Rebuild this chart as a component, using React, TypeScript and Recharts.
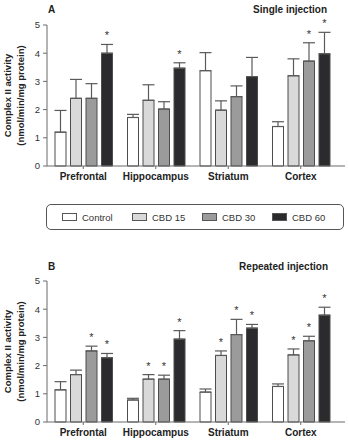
import { Bar, BarChart, ErrorBar, LabelList, XAxis, YAxis, Label } from "recharts";

const regions = ["Prefrontal", "Hippocampus", "Striatum", "Cortex"];
const groups = ["Control", "CBD 15", "CBD 30", "CBD 60"];
const groupFills = ["#ffffff", "#d9d9d9", "#9b9b9b", "#2b2b2d"];
const yTicks = [0, 1, 2, 3, 4, 5];

// single injection: means and upper SEM per group, one value per region
const singleMeans = [
  [1.2, 1.72, 3.38, 1.4],
  [2.4, 2.33, 1.98, 3.2],
  [2.4, 2.02, 2.46, 3.72],
  [4.0, 3.47, 3.17, 3.98],
];
const singleErrs = [
  [0.77, 0.11, 0.64, 0.17],
  [0.67, 0.55, 0.33, 0.6],
  [0.52, 0.26, 0.38, 0.65],
  [0.31, 0.19, 0.68, 0.76],
];
const singleStars = [
  [false, false, false, false],
  [false, false, false, false],
  [false, false, false, true],
  [true, true, false, true],
];

// repeated injection
const repeatedMeans = [
  [1.14, 0.78, 1.06, 1.26],
  [1.68, 1.52, 2.36, 2.38],
  [2.52, 1.52, 3.1, 2.88],
  [2.28, 2.94, 3.33, 3.79],
];
const repeatedErrs = [
  [0.29, 0.06, 0.11, 0.09],
  [0.16, 0.16, 0.16, 0.21],
  [0.17, 0.14, 0.54, 0.16],
  [0.15, 0.3, 0.13, 0.28],
];
const repeatedStars = [
  [false, false, false, false],
  [false, true, true, true],
  [true, true, true, true],
  [true, true, true, true],
];

const font = "'Liberation Sans', Arial, Helvetica, sans-serif";
const axisColor = "#6b6b6b";

function buildRows(means: number[][], errs: number[][]) {
  return regions.map((region, i) => {
    const row: Record<string, any> = { region };
    groups.forEach((_, g) => {
      row[`v${g}`] = means[g][i];
      row[`e${g}`] = [0, errs[g][i]];
    });
    return row;
  });
}

const yLabel = (props: any) => {
  const vb = props.viewBox ?? props;
  const cy = vb.y + vb.height / 2;
  return (
    <g fontFamily={font} fontSize={9.5} fontWeight={700} fill="#222">
      <text x={11} y={cy} transform={`rotate(-90, 11, ${cy})`} textAnchor="middle">
        Complex II activity
      </text>
      <text x={24} y={cy} transform={`rotate(-90, 24, ${cy})`} textAnchor="middle">
        (nmol/min/mg protein)
      </text>
    </g>
  );
};

function Panel({
  means,
  errs,
  stars,
  height,
  top,
}: {
  means: number[][];
  errs: number[][];
  stars: boolean[][];
  height: number;
  top: number;
}) {
  const rows = buildRows(means, errs);
  return (
    <BarChart
      width={349}
      height={height}
      data={rows}
      margin={{ top, right: 4, bottom: 0, left: 0 }}
      barSize={11}
      barGap={4.5}
    >
      <XAxis
        dataKey="region"
        height={height - top - 141 - 0}
        padding={{ left: 0, right: 8 }}
        stroke={axisColor}
        tickSize={3}
        tickMargin={4}
        tick={{ fontSize: 10, fontWeight: 700, fill: "#222", fontFamily: font }}
      />
      <YAxis
        width={47}
        domain={[0, 5]}
        ticks={yTicks}
        interval={0}
        stroke={axisColor}
        tickSize={4}
        tickMargin={3}
        tick={{ fontSize: 9.5, fill: "#333", fontFamily: font }}
      >
        <Label content={yLabel} />
      </YAxis>
      {groups.map((name, g) => (
        <Bar
          key={name}
          dataKey={`v${g}`}
          name={name}
          fill={groupFills[g]}
          stroke="#4d4d4d"
          strokeWidth={1}
          isAnimationActive={false}
        >
          <ErrorBar dataKey={`e${g}`} direction="y" width={6} stroke="#5a5a5a" strokeWidth={1.2} />
          <LabelList
            dataKey={`v${g}`}
            content={(p: any) => {
              const i = p.index;
              if (i == null || !stars[g][i]) return null;
              const vb = p.viewBox ?? p;
              const perUnit = vb.height / means[g][i];
              const errTop = vb.y - errs[g][i] * perUnit;
              return (
                <text
                  x={vb.x + vb.width / 2}
                  y={errTop - 5}
                  textAnchor="middle"
                  fontSize={11}
                  fontFamily={font}
                  fill="#333"
                >
                  *
                </text>
              );
            }}
          />
        </Bar>
      ))}
    </BarChart>
  );
}

const titleStyle = {
  position: "absolute" as const,
  fontFamily: font,
  fontSize: 10,
  fontWeight: 700,
  color: "#222",
  lineHeight: "12px",
};

export default function App() {
  return (
    <div
      style={{
        position: "absolute",
        left: 0,
        top: 0,
        width: 349,
        height: 443,
        background: "#fff",
        overflow: "hidden",
        fontFamily: font,
      }}
    >
      <div style={{ position: "absolute", left: 0, top: 0 }}>
        <Panel means={singleMeans} errs={singleErrs} stars={singleStars} height={190} top={25} />
      </div>
      <div style={{ ...titleStyle, left: 48, top: 4 }}>A</div>
      <div style={{ ...titleStyle, right: 22, top: 4 }}>Single injection</div>

      <div
        style={{
          position: "absolute",
          left: 46,
          top: 204,
          width: 298,
          height: 26,
          border: "1px solid #555",
          borderRadius: 5,
          display: "flex",
          alignItems: "center",
          paddingLeft: 15,
          boxSizing: "border-box",
        }}
      >
        {groups.map((name, g) => (
          <div key={name} style={{ width: 70, display: "flex", alignItems: "center" }}>
            <span
              style={{
                width: 13,
                height: 6,
                background: groupFills[g],
                border: "1px solid #555",
                marginRight: 5,
              }}
            />
            <span style={{ fontSize: 9.5, color: "#333" }}>{name}</span>
          </div>
        ))}
      </div>

      <div style={{ position: "absolute", left: 0, top: 255 }}>
        <Panel
          means={repeatedMeans}
          errs={repeatedErrs}
          stars={repeatedStars}
          height={188}
          top={26}
        />
      </div>
      <div style={{ ...titleStyle, left: 48, top: 261 }}>B</div>
      <div style={{ ...titleStyle, right: 21, top: 261 }}>Repeated injection</div>
    </div>
  );
}
